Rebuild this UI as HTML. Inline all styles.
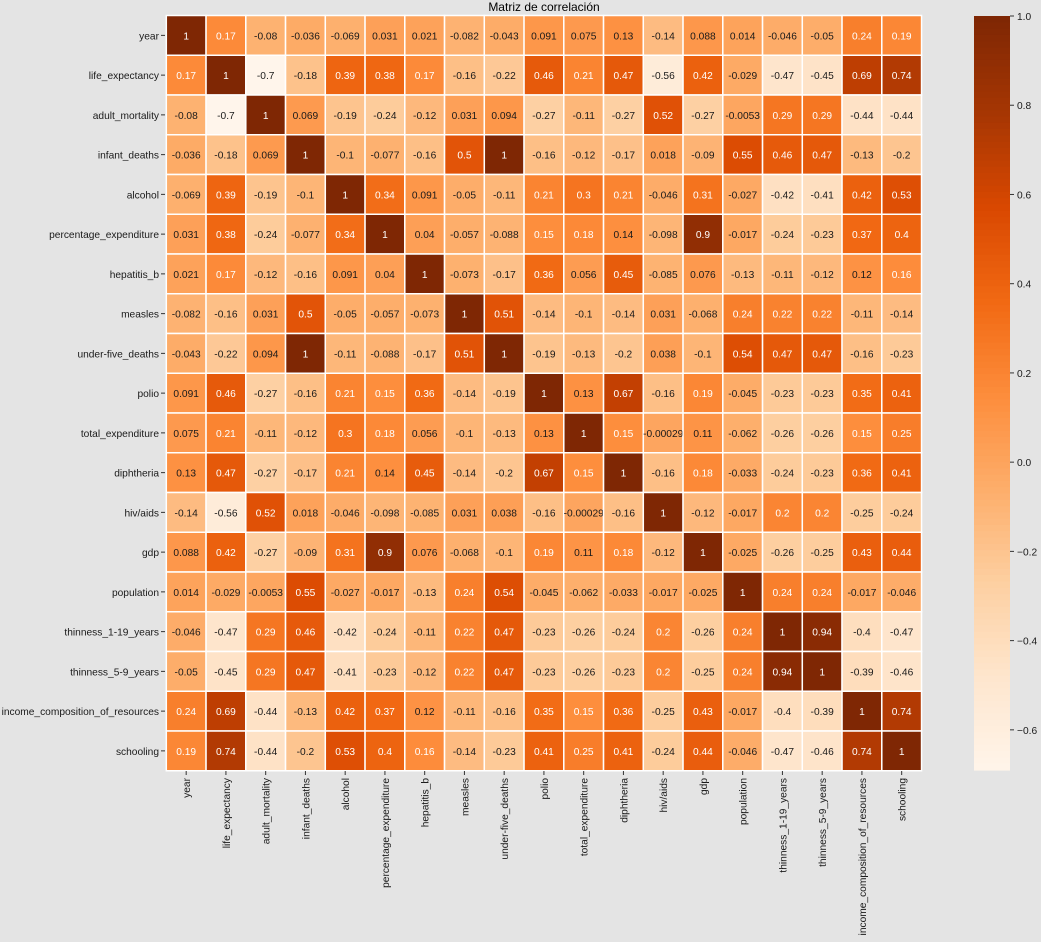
<!DOCTYPE html>
<html><head><meta charset="utf-8"><style>
body{margin:0;background:#e4e4e4;}
svg{display:block;font-family:"Liberation Sans","DejaVu Sans",sans-serif;}
</style></head><body>
<svg id="s" width="1041" height="942" xmlns="http://www.w3.org/2000/svg">
<rect width="1041" height="942" fill="#e4e4e4"/>
<text x="544" y="11" font-size="12" text-anchor="middle">Matriz de correlación</text>
<g id="g"></g>
</svg>
<script>
const L=["year","life_expectancy","adult_mortality","infant_deaths","alcohol","percentage_expenditure","hepatitis_b","measles","under-five_deaths","polio","total_expenditure","diphtheria","hiv/aids","gdp","population","thinness_1-19_years","thinness_5-9_years","income_composition_of_resources","schooling"];
const M=[
"1 0.17 -0.08 -0.036 -0.069 0.031 0.021 -0.082 -0.043 0.091 0.075 0.13 -0.14 0.088 0.014 -0.046 -0.05 0.24 0.19",
"0.17 1 -0.7 -0.18 0.39 0.38 0.17 -0.16 -0.22 0.46 0.21 0.47 -0.56 0.42 -0.029 -0.47 -0.45 0.69 0.74",
"-0.08 -0.7 1 0.069 -0.19 -0.24 -0.12 0.031 0.094 -0.27 -0.11 -0.27 0.52 -0.27 -0.0053 0.29 0.29 -0.44 -0.44",
"-0.036 -0.18 0.069 1 -0.1 -0.077 -0.16 0.5 1 -0.16 -0.12 -0.17 0.018 -0.09 0.55 0.46 0.47 -0.13 -0.2",
"-0.069 0.39 -0.19 -0.1 1 0.34 0.091 -0.05 -0.11 0.21 0.3 0.21 -0.046 0.31 -0.027 -0.42 -0.41 0.42 0.53",
"0.031 0.38 -0.24 -0.077 0.34 1 0.04 -0.057 -0.088 0.15 0.18 0.14 -0.098 0.9 -0.017 -0.24 -0.23 0.37 0.4",
"0.021 0.17 -0.12 -0.16 0.091 0.04 1 -0.073 -0.17 0.36 0.056 0.45 -0.085 0.076 -0.13 -0.11 -0.12 0.12 0.16",
"-0.082 -0.16 0.031 0.5 -0.05 -0.057 -0.073 1 0.51 -0.14 -0.1 -0.14 0.031 -0.068 0.24 0.22 0.22 -0.11 -0.14",
"-0.043 -0.22 0.094 1 -0.11 -0.088 -0.17 0.51 1 -0.19 -0.13 -0.2 0.038 -0.1 0.54 0.47 0.47 -0.16 -0.23",
"0.091 0.46 -0.27 -0.16 0.21 0.15 0.36 -0.14 -0.19 1 0.13 0.67 -0.16 0.19 -0.045 -0.23 -0.23 0.35 0.41",
"0.075 0.21 -0.11 -0.12 0.3 0.18 0.056 -0.1 -0.13 0.13 1 0.15 -0.00029 0.11 -0.062 -0.26 -0.26 0.15 0.25",
"0.13 0.47 -0.27 -0.17 0.21 0.14 0.45 -0.14 -0.2 0.67 0.15 1 -0.16 0.18 -0.033 -0.24 -0.23 0.36 0.41",
"-0.14 -0.56 0.52 0.018 -0.046 -0.098 -0.085 0.031 0.038 -0.16 -0.00029 -0.16 1 -0.12 -0.017 0.2 0.2 -0.25 -0.24",
"0.088 0.42 -0.27 -0.09 0.31 0.9 0.076 -0.068 -0.1 0.19 0.11 0.18 -0.12 1 -0.025 -0.26 -0.25 0.43 0.44",
"0.014 -0.029 -0.0053 0.55 -0.027 -0.017 -0.13 0.24 0.54 -0.045 -0.062 -0.033 -0.017 -0.025 1 0.24 0.24 -0.017 -0.046",
"-0.046 -0.47 0.29 0.46 -0.42 -0.24 -0.11 0.22 0.47 -0.23 -0.26 -0.24 0.2 -0.26 0.24 1 0.94 -0.4 -0.47",
"-0.05 -0.45 0.29 0.47 -0.41 -0.23 -0.12 0.22 0.47 -0.23 -0.26 -0.23 0.2 -0.25 0.24 0.94 1 -0.39 -0.46",
"0.24 0.69 -0.44 -0.13 0.42 0.37 0.12 -0.11 -0.16 0.35 0.15 0.36 -0.25 0.43 -0.017 -0.4 -0.39 1 0.74",
"0.19 0.74 -0.44 -0.2 0.53 0.4 0.16 -0.14 -0.23 0.41 0.25 0.41 -0.24 0.44 -0.046 -0.47 -0.46 0.74 1"];
const S=["fff5eb","fee6ce","fdd0a2","fdae6b","fd8d3c","f16913","d94801","a63603","7f2704"].map(h=>[0,2,4].map(i=>parseInt(h.substr(i,2),16)));
const vmin=-0.69,vmax=1;
function col(v){let t=(v-vmin)/(vmax-vmin);t=Math.max(0,Math.min(1,t))*8;let i=Math.min(7,Math.floor(t)),f=t-i;return S[i].map((c,k)=>c+(S[i+1][k]-c)*f);}
function lum(c){const l=c.map(x=>{x/=255;return x<=0.03928?x/12.92:Math.pow((x+0.055)/1.055,2.4)});return 0.2126*l[0]+0.7152*l[1]+0.0722*l[2];}
const X0=166.3,Y0=15.5,C=39.75;let h="";
M.forEach((r,i)=>{r.split(" ").forEach((s,j)=>{const c=col(parseFloat(s));const x=X0+j*C,y=Y0+i*C;
h+=`<rect x="${x}" y="${y}" width="${C}" height="${C}" fill="rgb(${c.map(Math.round)})" stroke="#fff" stroke-width="1.5"/>`;
h+=`<text x="${x+C/2}" y="${y+C/2+4}" font-size="10.2" text-anchor="middle" fill="${lum(c)>0.408?'#1a1a1a':'#fff'}">${s}</text>`;});});
L.forEach((l,i)=>{const y=Y0+i*C+C/2;h+=`<line x1="161" x2="165" y1="${y}" y2="${y}" stroke="#333"/><text x="159" y="${y+4}" font-size="10.2" text-anchor="end" fill="#1a1a1a">${l}</text>`;
const x=X0+i*C+C/2;h+=`<line x1="${x}" x2="${x}" y1="771" y2="775" stroke="#333"/><text transform="translate(${x+4},778) rotate(-90)" font-size="10.2" text-anchor="end" fill="#1a1a1a">${l}</text>`;});
const cx=974,cw=36,ct=16,cb=770;let n=120;
for(let k=0;k<n;k++){const v=vmax-(vmax-vmin)*k/n;const c=col(v);h+=`<rect x="${cx}" y="${ct+(cb-ct)*k/n}" width="${cw}" height="${(cb-ct)/n+0.6}" fill="rgb(${c.map(Math.round)})"/>`;}
[1,0.8,0.6,0.4,0.2,0,-0.2,-0.4,-0.6].forEach(v=>{const y=ct+(vmax-v)/(vmax-vmin)*(cb-ct);h+=`<line x1="${cx+cw}" x2="${cx+cw+4}" y1="${y}" y2="${y}" stroke="#333"/><text x="${cx+cw+7}" y="${y+4}" font-size="10.2" fill="#1a1a1a">${v.toFixed(1).replace('-','\u2212')}</text>`;});
document.getElementById("g").innerHTML=h;
</script>
</body></html>
